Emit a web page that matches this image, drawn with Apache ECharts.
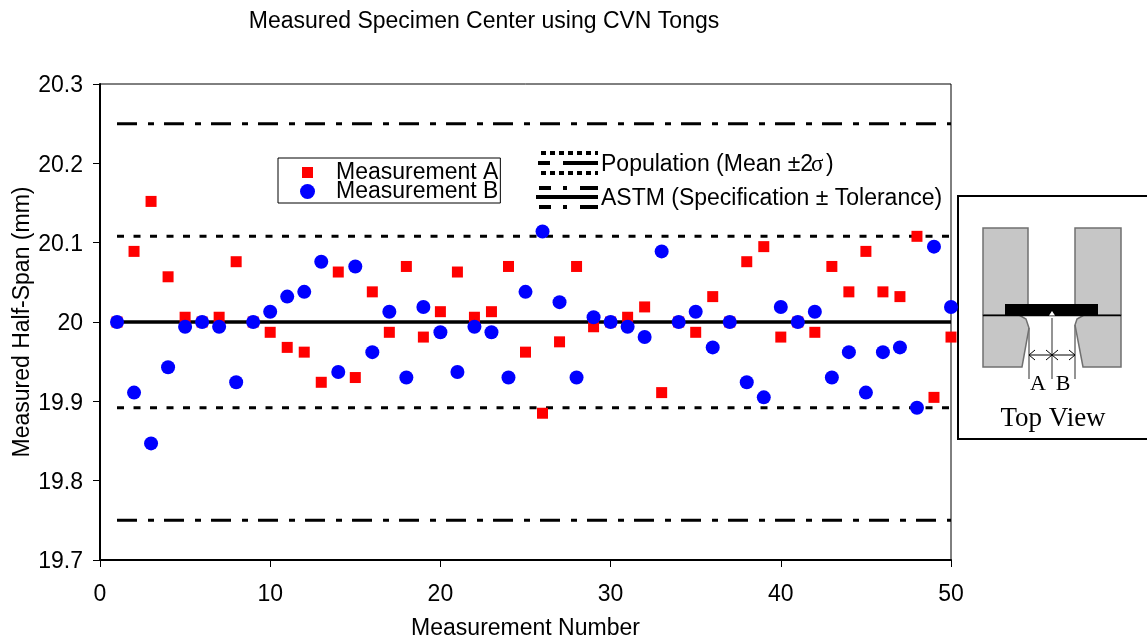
<!DOCTYPE html>
<html><head><meta charset="utf-8">
<style>html,body{margin:0;padding:0;background:#fff}#c{width:1147px;height:641px}</style>
<script src="https://cdn.jsdelivr.net/npm/echarts@6/dist/echarts.min.js"></script>
</head><body><div id="c"></div>
<script>
const measurementNumbers = [1,2,3,4,5,6,7,8,9,10,11,12,13,14,15,16,17,18,19,20,21,22,23,24,25,26,27,28,29,30,31,32,33,34,35,36,37,38,39,40,41,42,43,44,45,46,47,48,49,50];
const measurementA = [20,20.089,20.152,20.057,20.006,20,20.006,20.076,20,19.987,19.968,19.962,19.924,20.063,19.93,20.038,19.987,20.07,19.981,20.013,20.063,20.006,20.013,20.07,19.962,19.885,19.975,20.07,19.994,20,20.006,20.019,19.911,20,19.987,20.032,20,20.076,20.095,19.981,20,19.987,20.07,20.038,20.089,20.038,20.032,20.108,19.905,19.981];
const measurementB = [20,19.911,19.847,19.943,19.994,20,19.994,19.924,20,20.013,20.032,20.038,20.076,19.937,20.07,19.962,20.013,19.93,20.019,19.987,19.937,19.994,19.987,19.93,20.038,20.114,20.025,19.93,20.006,20,19.994,19.981,20.089,20,20.013,19.968,20,19.924,19.905,20.019,20,20.013,19.93,19.962,19.911,19.962,19.968,19.892,20.095,20.019];
const lineSpan = [1,50];
const specification = 20;
const astmLimits = [20.25,19.75];
const populationLimits = [20.108,19.892];
const nameA = 'Measurement A', nameB = 'Measurement B';

const pair = (v) => lineSpan.map(x => [x, v]);
const lineSeries = (v, type, width) => ({
  type:'line', data:pair(v), symbol:'none', silent:true, z:1,
  lineStyle:{color:'#000', width, type, cap:'butt'}
});
const DASHDOT=[20,11,6,10], DOT=[7,9.5];
const FONT='"Liberation Sans",Arial,sans-serif', SERIF='"Liberation Serif","Times New Roman",serif';
const SIZE=23;

const seg = (x1,x2,y,w,dash) => ({type:'line',shape:{x1,y1:y,x2,y2:y},style:{stroke:'#000',lineWidth:w,lineDash:dash||null}});
const gline = (x1,y1,x2,y2,stroke,w) => ({type:'line',shape:{x1,y1,x2,y2},style:{stroke,lineWidth:w}});
const gtext = (x,y,text,font,size,align) => ({type:'text',x,y,style:{text,fontFamily:font,fontSize:size,fill:'#000',align:align||'left',verticalAlign:'middle'}});
const GREY='#c6c6c6', EDGE='#707070';
const block = (x,y,width,height) => ({type:'rect',shape:{x,y,width,height},style:{fill:GREY,stroke:EDGE,lineWidth:1.5}});
const poly = (points) => ({type:'polygon',shape:{points},style:{fill:GREY,stroke:EDGE,lineWidth:1.5}});

const graphics = [
  // line key
  seg(541,598,153,4,[5,4]), seg(538,550,163,4), seg(563,598,163,4), seg(541,598,173,4,[5,4]),
  seg(539,551,188,4), seg(563,567,188,4), seg(580,598,188,4),
  seg(536,598,197,4),
  seg(539,551,207,4), seg(563,567,207,4), seg(580,598,207,4),
  gtext(601,165,'Population (Mean \u00b12',FONT,SIZE),
  gtext(811,165,'\u03c3',SERIF,SIZE),
  gtext(826,165,')',FONT,SIZE),
  gtext(601,199,'ASTM (Specification \u00b1 Tolerance)',FONT,SIZE),
  // inset frame
  {type:'rect',shape:{x:958,y:196,width:200,height:243},style:{fill:'#fff',stroke:'#000',lineWidth:2}},
  block(983,228,45,87), block(1075,228,46,87),
  poly([[983,315],[1019,315],[1026,319],[1029,328],[1022,367],[983,367]]),
  poly([[1121,315],[1084,315],[1077,319],[1075,325],[1083,367],[1121,367]]),
  {type:'rect',shape:{x:1005,y:304,width:93,height:11.5},style:{fill:'#000'}},
  gline(983,315.5,1121,315.5,'#000',1.5),
  {type:'polygon',shape:{points:[[1049,315.5],[1052,311],[1055,315.5]]},style:{fill:'#fff'}},
  gline(1029,328,1029,379,'#707070',1.5), gline(1052,318,1052,379,'#707070',1.5), gline(1075,325,1075,379,'#707070',1.5),
  gline(1029,355,1075,355,'#000',1),
  gline(1029,355,1035,350,'#000',1), gline(1029,355,1035,360,'#000',1),
  gline(1052,355,1046,350,'#000',1), gline(1052,355,1046,360,'#000',1),
  gline(1052,355,1058,350,'#000',1), gline(1052,355,1058,360,'#000',1),
  gline(1075,355,1069,350,'#000',1), gline(1075,355,1069,360,'#000',1),
  gtext(1038,384,'A',SERIF,22,'center'), gtext(1063,384,'B',SERIF,22,'center'),
  gtext(1053,419,'Top View',SERIF,27,'center')
];

const chart = echarts.init(document.getElementById('c'),null,{renderer:'canvas'});
chart.setOption({
  animation:false, backgroundColor:'#fff',
  title:{text:'Measured Specimen Center using CVN Tongs',left:479,top:5.5,textAlign:'center',
    textStyle:{fontFamily:FONT,fontSize:SIZE,fontWeight:'normal',color:'#000'}},
  grid:{left:100,right:196,top:84,bottom:81,show:true,outerBoundsMode:'none',containLabel:false,borderColor:'#000',borderWidth:1,backgroundColor:'transparent'},
  legend:{show:true,orient:'vertical',left:278,top:158,padding:[3,2,0,22],itemGap:-4,itemWidth:15,itemHeight:15,
    borderColor:'#000',borderWidth:1,backgroundColor:'#fff',
    textStyle:{fontFamily:FONT,fontSize:SIZE,color:'#000',padding:[0,0,0,16]},
    data:[{name:nameA,icon:'path://M0,0L0,0M15,15L15,15M2,2H13V13H2Z'},{name:nameB,icon:'circle'}]},
  xAxis:{type:'value',min:0,max:50,interval:10,name:'Measurement Number',nameLocation:'middle',nameGap:57.5,nameMoveOverlap:false,
    nameTextStyle:{fontFamily:FONT,fontSize:SIZE,color:'#000'},
    axisLine:{show:true,onZero:false,lineStyle:{color:'#000',width:2}},
    axisTick:{show:true,length:7,inside:false,lineStyle:{color:'#000',width:1}},
    axisLabel:{fontFamily:FONT,fontSize:SIZE,color:'#000',margin:23,hideOverlap:false,showMinLabel:true,showMaxLabel:true},
    splitLine:{show:false}},
  yAxis:{type:'value',min:19.7,max:20.3,interval:0.1,name:'Measured Half-Span (mm)',nameLocation:'middle',nameGap:65.5,nameMoveOverlap:false,
    nameTextStyle:{fontFamily:FONT,fontSize:SIZE,color:'#000'},
    axisLine:{show:true,onZero:false,lineStyle:{color:'#000',width:2}},
    axisTick:{show:true,length:7,lineStyle:{color:'#000',width:1}},
    axisLabel:{fontFamily:FONT,fontSize:SIZE,color:'#000',margin:17,showMinLabel:true,showMaxLabel:true,
      rich:{v:{fontFamily:FONT,fontSize:SIZE,color:'#000',padding:[4,0,0,0]}},
      formatter:(v)=>'{v|'+String(Math.round(v*10)/10)+'}'},
    splitLine:{show:false}},
  series:[
    lineSeries(astmLimits[0],DASHDOT,3), lineSeries(astmLimits[1],DASHDOT,3),
    lineSeries(populationLimits[0],DOT,3), lineSeries(populationLimits[1],DOT,3),
    lineSeries(specification,'solid',3.5),
    {name:nameA,type:'scatter',symbol:'rect',symbolSize:11,z:3,clip:false,itemStyle:{color:'#ff0000',opacity:1},
      data:measurementNumbers.map((x,i)=>[x,measurementA[i]])},
    {name:nameB,type:'scatter',symbol:'circle',symbolSize:14,z:4,clip:false,itemStyle:{color:'#0000ff',opacity:1},
      data:measurementNumbers.map((x,i)=>[x,measurementB[i]])}
  ],
  graphic:{elements:graphics}
});
</script></body></html>
